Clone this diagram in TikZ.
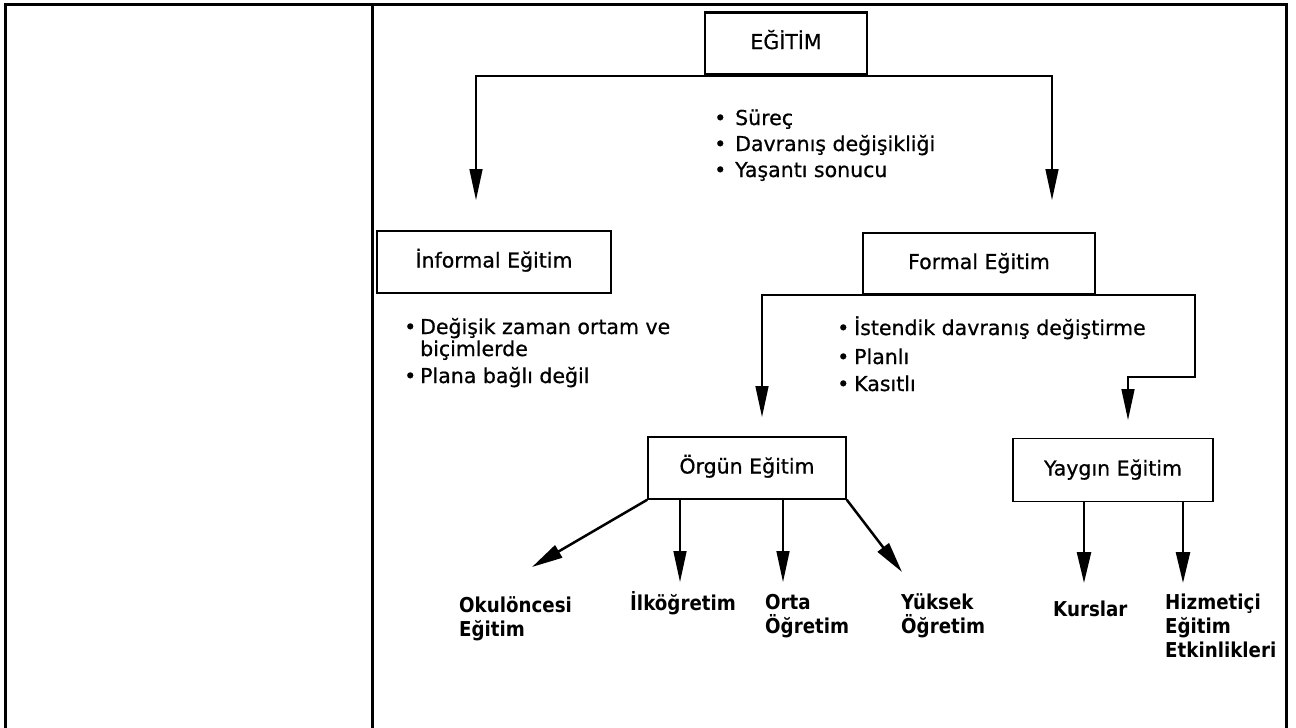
\documentclass[tikz,border=0pt]{standalone}
\usepackage{fontspec}
\setmainfont{DejaVu Sans}[FakeBold=0.7]
\newfontfamily\lblfont{DejaVu Sans}[FakeStretch=0.89]
\usetikzlibrary{arrows.meta}
\tikzset{
  txt/.style={font=\fontsize{20.5}{24}\selectfont, inner sep=0pt, anchor=base west},
  lbl/.style={font=\lblfont\bfseries\fontsize{20.5}{24}\selectfont, inner sep=0pt, anchor=base west},
  box/.style={draw, line width=1.5pt, inner sep=0pt, font=\fontsize{20.5}{24}\selectfont, text height=15pt, text depth=4pt},
  arr/.style={line width=1.5pt, line cap=rect, -{Triangle[length=31pt,width=13pt]}},
  thickarr/.style={line width=2.5pt, -{Triangle[length=31pt,width=14pt]}},
  tableframe/.style={line width=3pt}
}
\begin{document}
\begin{tikzpicture}[x=1pt,y=-1pt]
\useasboundingbox (0,0) rectangle (1296,728);
% table frame
\draw[tableframe] (5,728) -- (5,4) -- (1286,4) -- (1286,728);
\draw[tableframe] (372,4) -- (372,728);

% EGITIM
\node[box, minimum width=162pt, minimum height=61pt] (egitim) at (786,43.5) {EĞİTİM};
\draw[line width=3.5pt] (egitim.north west) -- (egitim.north east);
\coordinate (eL) at (476,76);
\coordinate (eR) at (1052,76);
\coordinate (aInf) at (476,200);
\coordinate (aFor) at (1052,200);
\draw[arr] (eL) -- (eR) -- (aFor);
\draw[arr] (eL) -- (aInf);

\node[txt] (b1) at (714,125) {\makebox[21pt][l]{•}Süreç};
\node[txt] (b2) at (714,151) {\makebox[21pt][l]{•}Davranış değişikliği};
\node[txt] (b3) at (714,177) {\makebox[21pt][l]{•}Yaşantı sonucu};

% Informal
\node[box, minimum width=234pt, minimum height=62pt] (informal) at (494,262) {İnformal Eğitim};
\node[txt] (i1) at (404,334) {\makebox[16pt][l]{•}Değişik zaman ortam ve};
\node[txt] (i2) at (420,356) {biçimlerde};
\node[txt] (i3) at (404,383) {\makebox[16pt][l]{•}Plana bağlı değil};

% Formal
\node[box, minimum width=232pt, minimum height=61pt] (formal) at (979,263.5) {Formal Eğitim};
\coordinate (fL) at (762,295);
\coordinate (fR) at (1195,295);
\coordinate (fM) at (1195,377);
\coordinate (fM2) at (1128,377);
\coordinate (aOrg) at (762,417);
\coordinate (aYay) at (1128,420);
\draw[arr] (fL) -- (fR) -- (fM) -- (fM2) -- (aYay);
\draw[arr] (fL) -- (aOrg);
\node[txt] (f1) at (837,335) {\makebox[17pt][l]{•}İstendik davranış değiştirme};
\node[txt] (f2) at (837,364) {\makebox[17pt][l]{•}Planlı};
\node[txt] (f3) at (837,391) {\makebox[17pt][l]{•}Kasıtlı};

% Orgun / Yaygin
\node[box, minimum width=198pt, minimum height=62pt] (orgun) at (747,468) {Örgün Eğitim};
\node[box, minimum width=200pt, minimum height=63pt] (yaygin) at (1113,470) {Yaygın Eğitim};

\coordinate (tOk) at (532,567);
\coordinate (tIlk) at (680,582);
\coordinate (tOrt) at (783,582);
\coordinate (tYuk) at (902,572);
\coordinate (tKur) at (1084,583);
\coordinate (tHiz) at (1183,583);
\draw[thickarr] (orgun.south west) -- (tOk);
\draw[arr] (tIlk |- orgun.south) -- (tIlk);
\draw[arr] (tOrt |- orgun.south) -- (tOrt);
\draw[thickarr] (orgun.south east) -- (tYuk);
\draw[thickarr] (tKur |- yaygin.south) -- (tKur);
\draw[thickarr] (tHiz |- yaygin.south) -- (tHiz);

% bottom labels
\node[lbl] (l1a) at (459,612) {Okulöncesi};
\node[lbl] (l1b) at (459,636) {Eğitim};
\node[lbl] (l2a) at (630,610) {İlköğretim};
\node[lbl] (l3a) at (765,609) {Orta};
\node[lbl] (l3b) at (765,633) {Öğretim};
\node[lbl] (l4a) at (901,609) {Yüksek};
\node[lbl] (l4b) at (901,633) {Öğretim};
\node[lbl] (l5a) at (1053,616) {Kurslar};
\node[lbl] (l6a) at (1165,609) {Hizmetiçi};
\node[lbl] (l6b) at (1165,633) {Eğitim};
\node[lbl] (l6c) at (1165,657) {Etkinlikleri};
\end{tikzpicture}
\end{document}
